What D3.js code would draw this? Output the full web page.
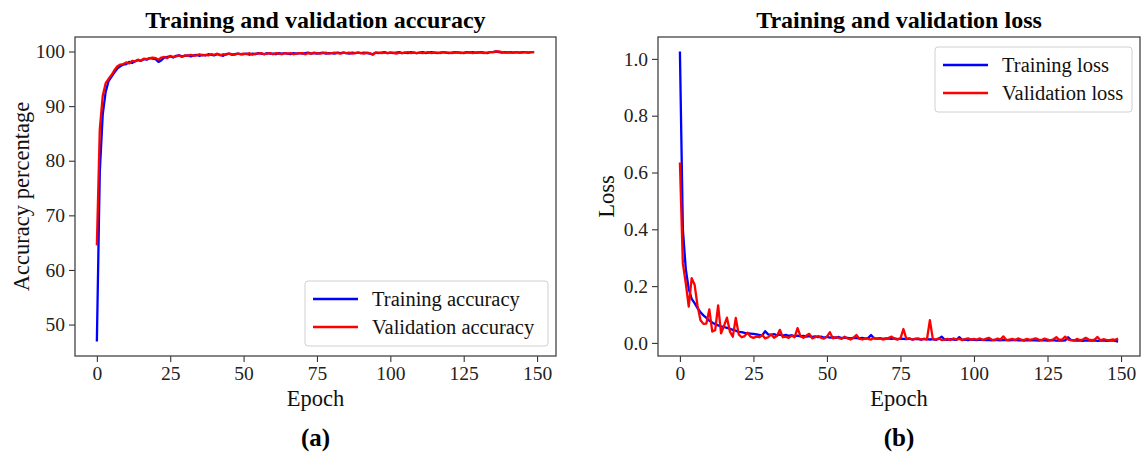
<!DOCTYPE html>
<html>
<head>
<meta charset="utf-8">
<script src="https://cdn.jsdelivr.net/npm/d3@7"></script>
<style>
  body { margin: 0; background: #fff; }
  svg { display: block; font-family: "Liberation Serif", "Times New Roman", serif; }
  .tick text { fill: #222; }
</style>
</head>
<body>
<svg id="chart" width="1142" height="454"></svg>
<script>
// epochs 0..149
var epochs = d3.range(150)

var trainAcc = [
  46.9, 78.0, 88.5, 92.6, 94.6, 95.4, 96.2, 96.9, 97.3, 97.6,
  97.7, 98.1, 97.9, 98.2, 98.4, 98.3, 98.6, 98.5, 98.8, 98.7,
  98.6, 98.1, 98.4, 98.9, 99.0, 99.1, 98.9, 99.2, 99.3, 99.1,
  99.2, 99.3, 99.1, 99.3, 99.4, 99.2, 99.4, 99.3, 99.5, 99.4,
  99.3, 99.5, 99.4, 99.2, 99.5, 99.6, 99.4, 99.5, 99.6, 99.5,
  99.5, 99.6, 99.4, 99.6, 99.5, 99.7, 99.6, 99.5, 99.7, 99.6,
  99.6, 99.5, 99.7, 99.6, 99.7, 99.6, 99.5, 99.7, 99.6, 99.7,
  99.6, 99.7, 99.8, 99.6, 99.7, 99.6, 99.7, 99.8, 99.6, 99.7,
  99.7, 99.6, 99.8, 99.7, 99.8, 99.7, 99.6, 99.8, 99.7, 99.8,
  99.7, 99.8, 99.7, 99.6, 99.5, 99.8, 99.7, 99.8, 99.9, 99.7,
  99.8, 99.7, 99.8, 99.9, 99.7, 99.8, 99.7, 99.9, 99.8, 99.7,
  99.8, 99.9, 99.7, 99.8, 99.9, 99.8, 99.7, 99.8, 99.9, 99.8,
  99.7, 99.8, 99.9, 99.8, 99.8, 99.7, 99.9, 99.8, 99.9, 99.8,
  99.8, 99.9, 99.8, 99.7, 99.9, 99.9, 100.0, 99.9, 99.8, 99.9,
  99.8, 99.9, 99.8, 99.9, 99.8, 99.9, 99.9, 99.8, 99.9, 99.9
]

var valAcc = [
  64.5, 85.8, 91.9, 94.2, 95.0, 95.7, 96.6, 97.3, 97.6, 97.7,
  98.0, 97.8, 98.3, 98.2, 98.5, 98.3, 98.7, 98.6, 98.8, 98.9,
  98.8, 98.5, 98.9, 99.0, 98.8, 99.2, 99.0, 99.1, 99.3, 99.0,
  99.3, 99.2, 99.4, 99.2, 99.3, 99.5, 99.3, 99.4, 99.3, 99.5,
  99.4, 99.6, 99.3, 99.5, 99.4, 99.6, 99.5, 99.4, 99.6, 99.5,
  99.6, 99.5, 99.7, 99.4, 99.6, 99.6, 99.7, 99.5, 99.6, 99.7,
  99.5, 99.7, 99.6, 99.5, 99.7, 99.6, 99.7, 99.5, 99.6, 99.7,
  99.7, 99.5, 99.7, 99.6, 99.8, 99.7, 99.6, 99.7, 99.8, 99.6,
  99.7, 99.8, 99.7, 99.6, 99.8, 99.7, 99.8, 99.6, 99.7, 99.8,
  99.7, 99.6, 99.8, 99.7, 99.4, 99.8, 99.8, 99.7, 99.8, 99.7,
  99.8, 99.8, 99.6, 99.8, 99.7, 99.8, 99.9, 99.7, 99.8, 99.7,
  99.8, 99.7, 99.8, 99.9, 99.7, 99.8, 99.8, 99.7, 99.9, 99.8,
  99.8, 99.7, 99.8, 99.9, 99.7, 99.8, 99.8, 99.9, 99.7, 99.8,
  99.9, 99.8, 99.7, 99.8, 99.9, 99.9, 100.0, 100.0, 99.9, 99.8,
  99.9, 99.8, 99.8, 99.9, 99.8, 99.8, 99.9, 99.8, 99.9, 99.9
]

var trainLoss = [
  1.026, 0.40, 0.26, 0.19, 0.155, 0.14, 0.122, 0.108, 0.097, 0.088,
  0.078, 0.072, 0.066, 0.062, 0.058, 0.056, 0.053, 0.050, 0.046, 0.043,
  0.039, 0.038, 0.035, 0.034, 0.033, 0.032, 0.030, 0.028, 0.027, 0.041,
  0.030, 0.028, 0.031, 0.027, 0.029, 0.026, 0.028, 0.025, 0.027, 0.024,
  0.026, 0.023, 0.025, 0.022, 0.024, 0.021, 0.023, 0.020, 0.022, 0.019,
  0.021, 0.019, 0.020, 0.018, 0.021, 0.017, 0.019, 0.018, 0.016, 0.018,
  0.017, 0.016, 0.018, 0.015, 0.017, 0.028, 0.016, 0.015, 0.017, 0.014,
  0.016, 0.015, 0.014, 0.016, 0.013, 0.015, 0.014, 0.013, 0.015, 0.012,
  0.014, 0.013, 0.012, 0.014, 0.013, 0.012, 0.013, 0.011, 0.014, 0.022,
  0.012, 0.011, 0.013, 0.012, 0.011, 0.020, 0.011, 0.012, 0.010, 0.012,
  0.011, 0.010, 0.012, 0.011, 0.010, 0.011, 0.009, 0.011, 0.010, 0.009,
  0.011, 0.010, 0.009, 0.010, 0.011, 0.009, 0.010, 0.008, 0.010, 0.009,
  0.010, 0.009, 0.008, 0.010, 0.009, 0.008, 0.009, 0.010, 0.008, 0.009,
  0.008, 0.009, 0.020, 0.010, 0.009, 0.008, 0.009, 0.007, 0.009, 0.008,
  0.008, 0.009, 0.007, 0.008, 0.009, 0.007, 0.008, 0.009, 0.007, 0.005
]

var valLoss = [
  0.635, 0.28, 0.21, 0.128, 0.228, 0.205, 0.13, 0.080, 0.067, 0.068,
  0.118, 0.040, 0.045, 0.132, 0.034, 0.060, 0.089, 0.040, 0.022, 0.088,
  0.030, 0.020, 0.024, 0.036, 0.022, 0.018, 0.022, 0.020, 0.028, 0.016,
  0.020, 0.030, 0.018, 0.024, 0.046, 0.020, 0.022, 0.018, 0.026, 0.020,
  0.052, 0.024, 0.018, 0.026, 0.032, 0.016, 0.020, 0.024, 0.018, 0.015,
  0.022, 0.038, 0.016, 0.020, 0.018, 0.014, 0.022, 0.016, 0.012, 0.018,
  0.028, 0.015, 0.012, 0.016, 0.014, 0.012, 0.018, 0.014, 0.016, 0.012,
  0.014, 0.018, 0.022, 0.014, 0.012, 0.016, 0.049, 0.014, 0.016, 0.012,
  0.014, 0.016, 0.012, 0.014, 0.012, 0.080, 0.014, 0.012, 0.016, 0.010,
  0.012, 0.014, 0.010, 0.016, 0.012, 0.014, 0.010, 0.013, 0.016, 0.011,
  0.014, 0.012, 0.016, 0.010, 0.014, 0.018, 0.012, 0.010, 0.015, 0.012,
  0.023, 0.010, 0.012, 0.014, 0.010, 0.016, 0.012, 0.010, 0.014, 0.011,
  0.013, 0.016, 0.012, 0.010, 0.015, 0.012, 0.009, 0.013, 0.020, 0.011,
  0.012, 0.022, 0.012, 0.010, 0.008, 0.014, 0.010, 0.012, 0.018, 0.012,
  0.010, 0.012, 0.021, 0.009, 0.013, 0.011, 0.010, 0.012, 0.011, 0.015
]

var xTicks = [0, 25, 50, 75, 100, 125, 150]
var accTicks = [50, 60, 70, 80, 90, 100]
var lossTicks = [0.0, 0.2, 0.4, 0.6, 0.8, 1.0]

var svg = d3.select("#chart")
svg.append("rect").attr("width", 1142).attr("height", 454).attr("fill", "#fff")

// matplotlib-like 5% padding around the data
function padded(lo, hi) {
  var r = hi - lo
  return [lo - 0.05 * r, hi + 0.05 * r]
}

function drawPanel(p) {
  var g = svg.append("g")
  var w = p.right - p.left, h = p.bottom - p.top

  var x = d3.scaleLinear().domain(padded(0, 149)).range([p.left, p.right])
  var allY = p.train.concat(p.val)
  var y = d3.scaleLinear().domain(padded(d3.min(allY), d3.max(allY))).range([p.bottom, p.top])

  var xAxis = g.append("g")
      .attr("transform", "translate(0," + p.bottom + ")")
      .call(d3.axisBottom(x).tickValues(xTicks).tickSize(6).tickPadding(4).tickFormat(d3.format("d")))
  var yAxis = g.append("g")
      .attr("transform", "translate(" + p.left + ",0)")
      .call(d3.axisLeft(y).tickValues(p.yTicks).tickSize(6).tickPadding(4).tickFormat(p.yFormat))

  ;[xAxis, yAxis].forEach(function(a) {
    a.select(".domain").remove()
    a.selectAll(".tick line").attr("stroke", "#333").attr("stroke-width", 1.1)
    a.selectAll(".tick text").attr("font-size", 19.5).attr("font-family", "Liberation Serif")
  })

  var line = function(vals) {
    return d3.line()
      .x(function(d, i) { return x(epochs[i]) })
      .y(function(d) { return y(d) })(vals)
  }

  g.append("path").attr("d", line(p.train))
      .attr("fill", "none").attr("stroke", "#0000ff").attr("stroke-width", 2.3)
      .attr("stroke-linejoin", "round")
  g.append("path").attr("d", line(p.val))
      .attr("fill", "none").attr("stroke", "#ff0000").attr("stroke-width", 2.3)
      .attr("stroke-linejoin", "round")

  // frame
  g.append("rect")
      .attr("x", p.left).attr("y", p.top).attr("width", w).attr("height", h)
      .attr("fill", "none").attr("stroke", "#444").attr("stroke-width", 1.3)

  g.append("text")
      .attr("x", p.left + w / 2).attr("y", p.top - 9)
      .attr("text-anchor", "middle").attr("font-size", 24).attr("font-weight", "bold")
      .text(p.title)

  g.append("text")
      .attr("x", p.left + w / 2).attr("y", 406)
      .attr("text-anchor", "middle").attr("font-size", 22.5).attr("fill", "#111")
      .text("Epoch")

  g.append("text")
      .attr("transform", "translate(" + p.yLabelX + "," + (p.top + h / 2) + ") rotate(-90)")
      .attr("text-anchor", "middle").attr("font-size", 22.5).attr("fill", "#111")
      .text(p.yLabel)

  g.append("text")
      .attr("x", p.left + w / 2).attr("y", 446)
      .attr("text-anchor", "middle").attr("font-size", 25).attr("font-weight", "bold")
      .text(p.caption)

  // legend
  var lg = g.append("g").attr("transform", "translate(" + p.legend[0] + "," + p.legend[1] + ")")
  lg.append("rect")
      .attr("width", p.legendW).attr("height", 65).attr("rx", 3)
      .attr("fill", "#fff").attr("fill-opacity", 0.85)
      .attr("stroke", "#d0d0d0").attr("stroke-width", 1)
  var items = [{ name: p.names[0], color: "#0000ff" }, { name: p.names[1], color: "#ff0000" }]
  items.forEach(function(it, i) {
    var cy = 18 + i * 28
    lg.append("line")
        .attr("x1", 8).attr("x2", 53).attr("y1", cy).attr("y2", cy)
        .attr("stroke", it.color).attr("stroke-width", 2.3)
    lg.append("text")
        .attr("x", 67).attr("y", cy + 6.5)
        .attr("font-size", 20.5).attr("fill", "#111")
        .text(it.name)
  })
}

drawPanel({
  left: 75, right: 556, top: 37, bottom: 356,
  train: trainAcc, val: valAcc,
  yTicks: accTicks, yFormat: d3.format("d"),
  title: "Training and validation accuracy",
  yLabel: "Accuracy percentage", yLabelX: 29,
  caption: "(a)",
  names: ["Training accuracy", "Validation accuracy"],
  legend: [305, 281], legendW: 243
})

drawPanel({
  left: 658, right: 1140, top: 37, bottom: 356,
  train: trainLoss, val: valLoss,
  yTicks: lossTicks, yFormat: d3.format(".1f"),
  title: "Training and validation loss",
  yLabel: "Loss", yLabelX: 614,
  caption: "(b)",
  names: ["Training loss", "Validation loss"],
  legend: [935, 47], legendW: 197
})
</script>
</body>
</html>
